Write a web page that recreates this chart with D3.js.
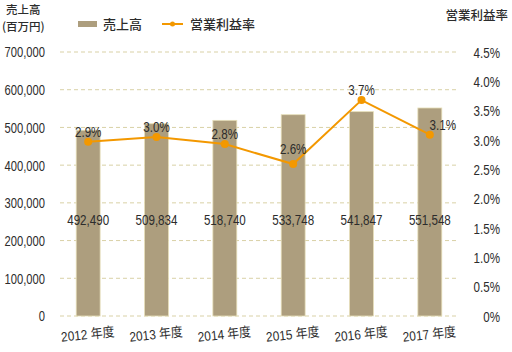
<!DOCTYPE html>
<html>
<head>
<meta charset="utf-8">
<script src="https://cdn.jsdelivr.net/npm/d3@7"></script>
<style>
  body { margin: 0; background: #fff; }
  svg text { font-family: "Liberation Sans", "Noto Sans CJK JP", sans-serif; fill: #2c2c2c; }
  .jp { font-family: "Noto Sans CJK JP", sans-serif; font-weight: 500; }
</style>
</head>
<body>
<div id="chart"></div>
<script>
// dados
var anos = ["2012", "2013", "2014", "2015", "2016", "2017"];
var vendas = [492490, 509834, 518740, 533748, 541847, 551548];
var margem = [2.97, 3.05, 2.93, 2.59, 3.68, 3.09];
var margemTxt = ["2.9%", "3.0%", "2.8%", "2.6%", "3.7%", "3.1%"];
var ticksEsq = [0, 100000, 200000, 300000, 400000, 500000, 600000, 700000];
var ticksDir = [0, 0.5, 1, 1.5, 2, 2.5, 3, 3.5, 4, 4.5];

var W = 512, H = 352;
var corBarra = "#ad9e7e", corLinha = "#f39800", corGrade = "#d9d1a6";
var estreito = 0.8; // fonte estreita: escala horizontal

var svg = d3.select("#chart").append("svg")
    .attr("width", W).attr("height", H);

/*
 * escalas
 */
var x = d3.scaleBand().domain(anos).range([54, 464]).paddingInner(0.65).paddingOuter(0.325);
var y = d3.scaleLinear().domain([0, 700000]).range([316, 52]);
var y2 = d3.scaleLinear().domain([0, 4.5]).range([316, 52]);
var cx = (d, i) => x(anos[i]) + x.bandwidth() / 2;

// grade
svg.append("g").selectAll("line")
    .data(ticksEsq)
    .enter().append("line")
      .attr("x1", 60).attr("x2", 458)
      .attr("y1", d => y(d)).attr("y2", d => y(d))
      .attr("stroke", corGrade)
      .attr("stroke-width", 1)
      .attr("stroke-dasharray", "4,3");

/*
 * eixos
 */
var eixoEsq = svg.append("g")
    .attr("transform", "translate(45,0)")
    .call(d3.axisLeft(y).tickValues(ticksEsq).tickSize(0).tickPadding(0).tickFormat(d3.format(",")));
eixoEsq.select(".domain").remove();
eixoEsq.selectAll("text").attr("font-size", 14).attr("dy", "0.35em")
    .attr("transform", "scale(" + estreito + ",1)");

var eixoDir = svg.append("g")
    .attr("transform", "translate(500,0)")
    .call(d3.axisRight(y2).tickValues(ticksDir).tickSize(0).tickPadding(0)
      .tickFormat(d => d == 0 ? "0%" : d.toFixed(1) + "%"));
eixoDir.select(".domain").remove();
eixoDir.selectAll("text").attr("font-size", 14.5).attr("text-anchor", "end").attr("dy", "0.35em")
    .attr("transform", "scale(" + estreito + ",1)");

/*
 * barras
 */
svg.append("g").selectAll("rect")
    .data(vendas)
    .enter().append("rect")
      .attr("x", (d, i) => x(anos[i]))
      .attr("width", x.bandwidth())
      .attr("y", d => y(d))
      .attr("height", d => y(0) - y(d))
      .attr("fill", corBarra)
      .attr("stroke", "#e6dfb8")
      .attr("stroke-width", 0.8);

svg.append("g").selectAll("text")
    .data(vendas)
    .enter().append("text")
      .attr("transform", (d, i) => "translate(" + cx(d, i) + ",225) scale(" + estreito + ",1)")
      .attr("text-anchor", "middle")
      .attr("font-size", 14.5)
      .text(d => d3.format(",")(d));

// rotulos do eixo x
svg.append("g").selectAll("text")
    .data(anos)
    .enter().append("text")
      .attr("transform", (d, i) => "translate(" + cx(d, i) + ",339) rotate(-6) scale(0.88,1)")
      .attr("text-anchor", "middle")
      .attr("font-size", 13.5)
      .text(d => d + " 年度");

/*
 * linha
 */
var linha = d3.line()
    .x(cx)
    .y(d => y2(d));

svg.append("path")
    .datum(margem)
    .attr("d", linha)
    .attr("fill", "none")
    .attr("stroke", corLinha)
    .attr("stroke-width", 2);

svg.append("g").selectAll("circle")
    .data(margem)
    .enter().append("circle")
      .attr("cx", cx)
      .attr("cy", d => y2(d))
      .attr("r", 4)
      .attr("fill", corLinha);

svg.append("g").selectAll("text")
    .data(margem)
    .enter().append("text")
      .attr("transform", (d, i) => "translate(" + (cx(d, i) + (i == 5 ? 13 : 0)) + ","
          + (y2(d) - (i == 3 ? 10 : 5)) + ") scale(" + estreito + ",1)")
      .attr("text-anchor", "middle")
      .attr("font-size", 14.5)
      .text((d, i) => margemTxt[i]);

/*
 * titulos e legenda
 */
svg.append("text").attr("class", "jp").attr("x", 6).attr("y", 14).attr("font-size", 11.5).text("売上高");
svg.append("text").attr("class", "jp").attr("x", 2).attr("y", 31).attr("font-size", 11.5).text("(百万円)");
svg.append("text").attr("class", "jp").attr("x", 508).attr("y", 20).attr("font-size", 12.5)
    .attr("text-anchor", "end").text("営業利益率");

svg.append("rect").attr("x", 78).attr("y", 21).attr("width", 19).attr("height", 6).attr("fill", corBarra);
svg.append("text").attr("class", "jp").attr("x", 103).attr("y", 29).attr("font-size", 13).text("売上高");
svg.append("line").attr("x1", 162).attr("x2", 183).attr("y1", 24).attr("y2", 24)
    .attr("stroke", corLinha).attr("stroke-width", 2);
svg.append("circle").attr("cx", 172.5).attr("cy", 24).attr("r", 2.5).attr("fill", corLinha);
svg.append("text").attr("class", "jp").attr("x", 190).attr("y", 29).attr("font-size", 13).text("営業利益率");
</script>
</body>
</html>
